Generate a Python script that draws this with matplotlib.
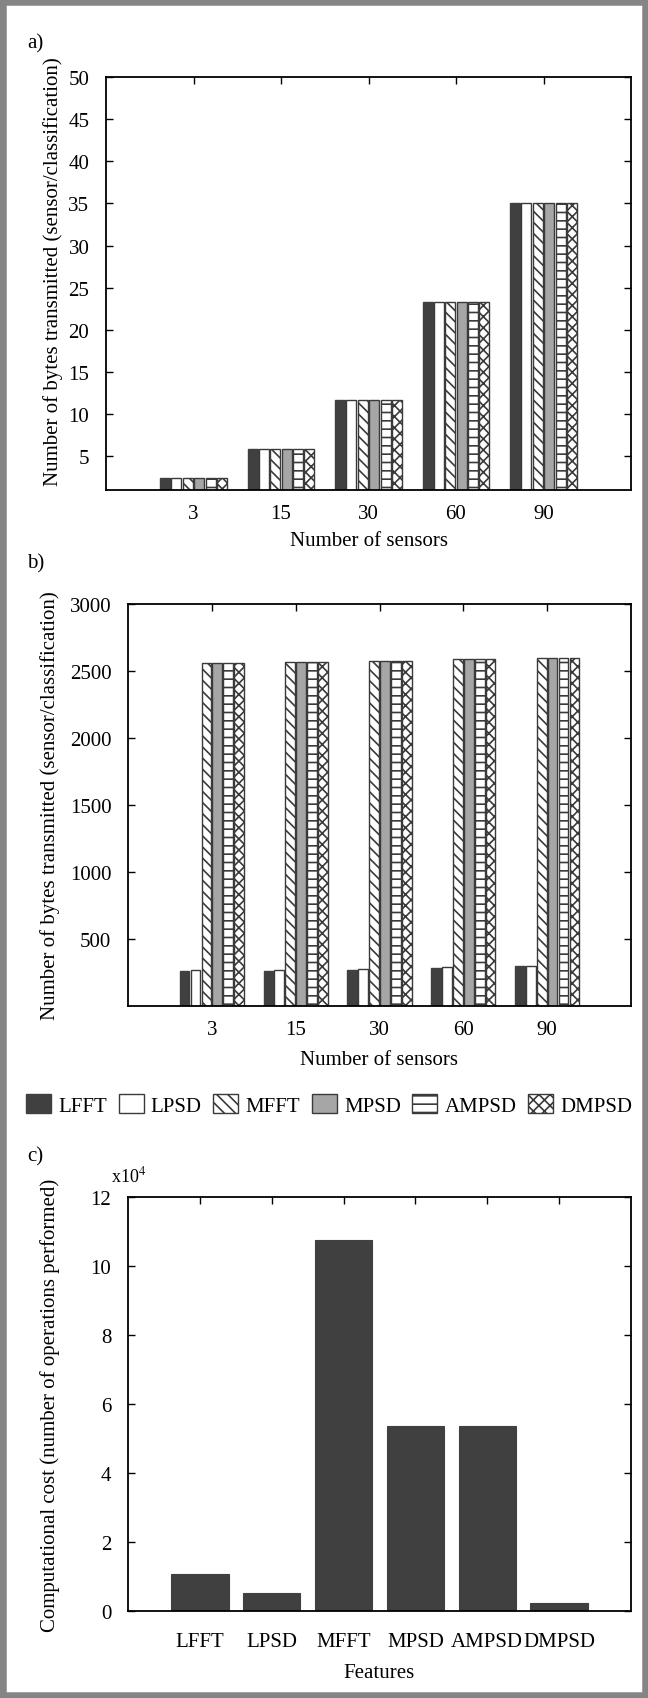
import matplotlib
matplotlib.use('Agg')
import matplotlib.pyplot as plt
import numpy as np
from matplotlib.patches import Rectangle, Patch

plt.rcParams['font.family'] = ['Liberation Serif', 'DejaVu Serif']
plt.rcParams['mathtext.fontset'] = 'stix'
plt.rcParams['hatch.linewidth'] = 1.2

# ---------------- data ----------------
sensors = ['3', '15', '30', '60', '90']
features = ['LFFT', 'LPSD', 'MFFT', 'MPSD', 'AMPSD', 'DMPSD']

# a) bytes transmitted per sensor per classification
a_lfft = [2.4, 5.85, 11.7, 23.3, 35.0]
a_lpsd = [2.4, 5.85, 11.7, 23.3, 35.0]
a_mfft = [2.4, 5.85, 11.7, 23.3, 35.0]
a_mpsd = [2.4, 5.85, 11.7, 23.3, 35.0]
a_ampsd = [2.4, 5.85, 11.7, 23.3, 35.0]
a_dmpsd = [2.4, 5.85, 11.7, 23.3, 35.0]

# b) bytes transmitted per sensor per classification
b_lfft = [261, 262, 270, 284, 296]
b_lpsd = [268, 269, 276, 290, 302]
b_mfft = [2562, 2570, 2577, 2587, 2597]
b_mpsd = [2562, 2570, 2577, 2587, 2597]
b_ampsd = [2562, 2570, 2577, 2587, 2597]
b_dmpsd = [2562, 2570, 2577, 2587, 2597]

# c) computational cost (number of operations)
c_cost = [10800, 5200, 107400, 53700, 53700, 2300]

a_ticks = [5, 10, 15, 20, 25, 30, 35, 40, 45, 50]
b_ticks = [500, 1000, 1500, 2000, 2500, 3000]
c_ticks = [0, 2, 4, 6, 8, 10, 12]

# ---------------- styles ----------------
EDGE = '#3a3a3a'
styles = [
    dict(facecolor='#404040', edgecolor='#404040', hatch=None),
    dict(facecolor='white', edgecolor=EDGE, hatch=None),
    dict(facecolor='white', edgecolor=EDGE, hatch='\\\\\\'),
    dict(facecolor='#a6a6a6', edgecolor=EDGE, hatch=None),
    dict(facecolor='white', edgecolor=EDGE, hatch='--'),
    dict(facecolor='white', edgecolor=EDGE, hatch='xxx'),
]

FS = 15
W, H = 648, 1699
fig = plt.figure(figsize=(W / 100, H / 100), dpi=100)


def rect(l, t, r, b):
    return [l / W, 1 - b / H, (r - l) / W, (b - t) / H]


def style_axes(ax, xpad=10):
    for s in ax.spines.values():
        s.set_linewidth(1.3)
        s.set_color('black')
    ax.tick_params(axis='both', direction='in', length=5, width=1,
                   labelsize=FS, colors='black')
    ax.tick_params(axis='x', bottom=False, top=True, labelbottom=True, pad=xpad)
    ax.tick_params(axis='y', left=True, right=True, pad=12)


def grouped(ax, series, x_labels):
    x = np.arange(1, len(x_labels) + 1)
    pitch, width = 0.13, 0.115
    for i, (vals, st) in enumerate(zip(series, styles)):
        ax.bar(x + (i - 2.5) * pitch, vals, width=width, linewidth=1.0,
               zorder=2, **st)
    ax.set_xlim(0, len(x_labels) + 1)
    ax.set_xticks(x)
    ax.set_xticklabels(x_labels)


# ---- panel a ----
axa = fig.add_axes(rect(106, 78, 631, 491))
grouped(axa, [a_lfft, a_lpsd, a_mfft, a_mpsd, a_ampsd, a_dmpsd], sensors)
axa.set_ylim(1, 50)
axa.set_yticks(a_ticks)
style_axes(axa)
axa.set_ylabel('Number of bytes transmitted (sensor/classification)', fontsize=FS)
axa.yaxis.set_label_coords(-0.082, 0.53)
axa.set_xlabel('Number of sensors', fontsize=FS)
axa.xaxis.set_label_coords(0.5, -0.10)

# ---- panel b ----
axb = fig.add_axes(rect(128, 605, 631, 1007))
grouped(axb, [b_lfft, b_lpsd, b_mfft, b_mpsd, b_ampsd, b_dmpsd], sensors)
axb.set_ylim(0, 3000)
axb.set_yticks(b_ticks)
style_axes(axb)
axb.set_ylabel('Number of bytes transmitted (sensor/classification)', fontsize=FS)
axb.yaxis.set_label_coords(-0.135, 0.5)
axb.set_xlabel('Number of sensors', fontsize=FS)
axb.xaxis.set_label_coords(0.5, -0.11)

# ---- legend ----
handles = [Patch(linewidth=1.0, **st) for st in styles]
fig.legend(handles, features, loc='center', bbox_to_anchor=(0.508, 1 - 1106 / H),
           ncol=6, frameon=False, fontsize=FS, handlelength=1.2,
           handleheight=1.0, handletextpad=0.35, columnspacing=0.55,
           borderaxespad=0, borderpad=0)

# ---- panel c ----
axc = fig.add_axes(rect(128, 1198, 631, 1612))
xc = np.arange(1, len(features) + 1)
axc.bar(xc, np.array(c_cost) / 1e4, width=0.8, color='#404040',
        edgecolor='#404040', linewidth=0.8, zorder=2)
axc.set_xlim(0, len(features) + 1)
axc.set_xticks(xc)
axc.set_xticklabels(features)
axc.set_ylim(0, 12)
axc.set_yticks(c_ticks)
style_axes(axc, xpad=15)
axc.set_ylabel('Computational cost (number of operations performed)', fontsize=FS)
axc.yaxis.set_label_coords(-0.135, 0.5)
axc.set_xlabel('Features', fontsize=FS)
axc.xaxis.set_label_coords(0.5, -0.125)

# ---- panel letters and multiplier ----
fig.text(27 / W, 1 - 44 / H, 'a)', fontsize=FS, ha='left', va='center')
fig.text(27 / W, 1 - 564 / H, 'b)', fontsize=FS, ha='left', va='center')
fig.text(27 / W, 1 - 1157 / H, 'c)', fontsize=FS, ha='left', va='center')
fig.text(111 / W, 1 - 1176 / H, r'x10$^4$', fontsize=13, ha='left', va='center')

# ---- gray frame ----
fig.patches.append(Rectangle((0, 0), 1, 1, transform=fig.transFigure,
                             fill=False, edgecolor='#858585', linewidth=9,
                             zorder=10))

fig.savefig('out.png', dpi=100)
